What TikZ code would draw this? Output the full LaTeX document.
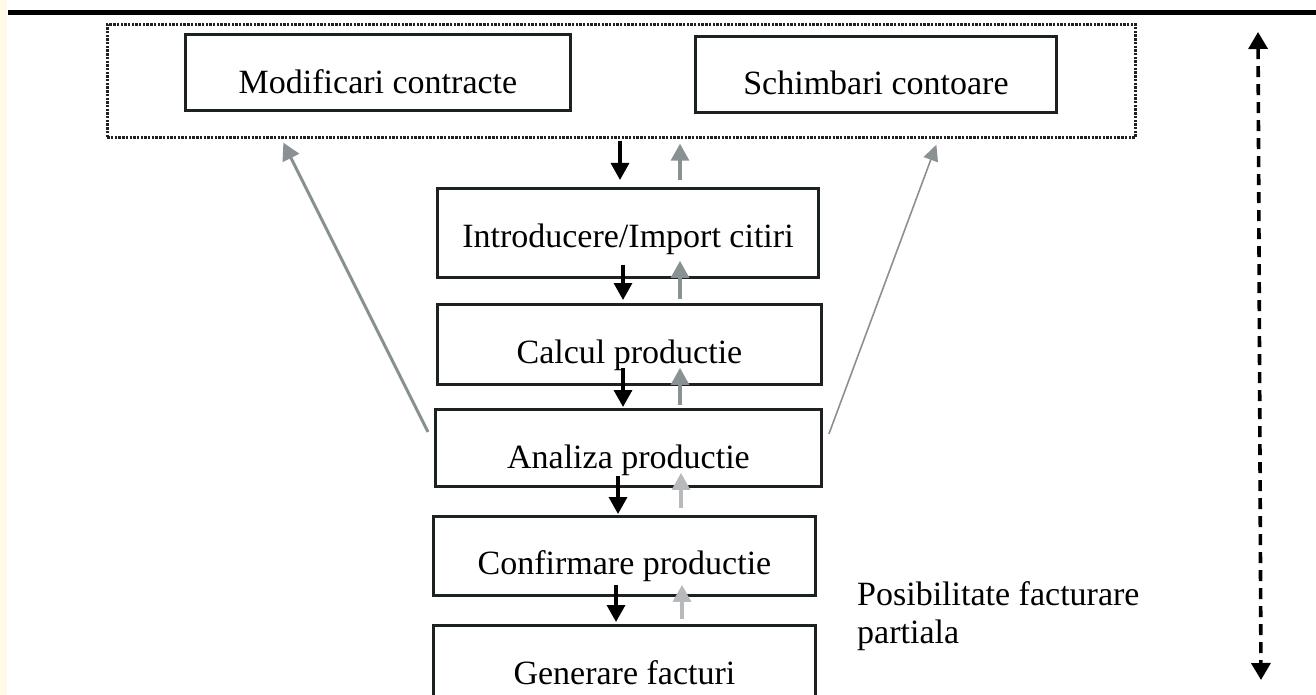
\documentclass[tikz,border=0pt]{standalone}
\usepackage{fontspec}
\setmainfont{Liberation Serif}
\usetikzlibrary{arrows.meta,calc}
\definecolor{boxline}{RGB}{28,34,34}
\definecolor{grayA}{RGB}{138,145,147}
\definecolor{grayB}{RGB}{182,186,187}
\definecolor{cream}{RGB}{255,250,232}
\begin{document}
\begin{tikzpicture}[x=1pt,y=-1pt,
  box/.style={draw=boxline, line width=2.9pt, rectangle, inner sep=0pt, anchor=north west, font=\fontsize{34}{36}\selectfont},
  dotbox/.style={draw=boxline, line width=2.7pt, dash pattern=on 2.4pt off 1.3pt, rectangle, inner sep=0pt, anchor=north west},
  tipA/.tip={Triangle[width=18pt,length=17pt]},
  darr/.style={draw=black, line width=3.3pt, -tipA},
  garr/.style={draw=grayA, line width=3.3pt, -tipA},
  larr/.style={draw=grayB, line width=3.3pt, -tipA},
  diagL/.style={draw=grayA, line width=3pt, -tipA},
  diagR/.style={draw=grayA, line width=1.6pt, -{Triangle[width=15pt,length=16pt]}},
  dasharr/.style={draw=black, line width=3.6pt, dash pattern=on 11pt off 7pt, {Triangle[width=19pt,length=17pt]}-{Triangle[width=19pt,length=17pt]}},
  note/.style={anchor=north west, inner sep=0pt, align=left, font=\fontsize{34}{38}\selectfont}]
\clip (0,0) rectangle (1316,695);
\fill[white] (0,0) rectangle (1316,695);
\fill[cream] (0,0) rectangle (7,695);
\draw[line width=5.5pt] (8,12.5) -- (1316,12.5);

% boxes
\node[dotbox, minimum width=1028pt, minimum height=113pt] (grp) at (106,23) {};
\node[box, minimum width=385pt, text height=59pt, text depth=17pt] (mod) at (184,33) {Modificari contracte};
\node[box, minimum width=361pt, text height=58pt, text depth=18pt] (sch) at (694,35) {Schimbari contoare};
\node[box, minimum width=381pt, text height=59pt, text depth=30pt] (intro) at (436,187) {Introducere/Import citiri};
\node[box, minimum width=384pt, text height=59pt, text depth=21pt] (calc) at (436,303) {Calcul productie};
\node[box, minimum width=386pt, text height=59pt, text depth=18pt] (anal) at (434,408) {Analiza productie};
\node[box, minimum width=382pt, text height=58pt, text depth=21pt] (conf) at (432,515) {Confirmare productie};
\node[box, minimum width=382pt, text height=59pt, text depth=40pt] (gen) at (432,624) {Generare facturi};

% arrow columns
\coordinate (k1) at (620,0);
\coordinate (k2) at (623,0);
\coordinate (k3) at (618,0);
\coordinate (k4) at (616,0);
\coordinate (g1) at (680,0);
\coordinate (g2) at (681,0);
\coordinate (g3) at (682,0);

% downward black arrows
\draw[darr] ($(grp.south -| k1)+(0,2)$) -- ($(intro.north -| k1)+(0,-7)$);
\draw[darr] ($(intro.south -| k2)+(0,-14)$) -- ($(calc.north -| k2)+(0,-3)$);
\draw[darr] ($(calc.south -| k2)+(0,-18)$) -- ($(anal.north -| k2)+(0,-1)$);
\draw[darr] ($(anal.south -| k3)+(0,-12)$) -- ($(conf.north -| k3)+(0,-1)$);
\draw[darr] ($(conf.south -| k4)+(0,-12)$) -- ($(gen.north -| k4)+(0,-2)$);

% upward gray arrows
\draw[garr] ($(intro.north -| g1)+(0,-7)$) -- ($(grp.south -| g1)+(0,5)$);
\draw[garr] ($(calc.north -| g1)+(0,-4)$) -- ($(intro.south -| g1)+(0,-18)$);
\draw[garr] ($(anal.north -| g1)+(0,-3)$) -- ($(calc.south -| g1)+(0,-18)$);
\draw[larr] ($(conf.north -| g2)+(0,-7)$) -- ($(anal.south -| g2)+(0,-15)$);
\draw[larr] ($(gen.north -| g3)+(0,-5)$) -- ($(conf.south -| g3)+(0,-12)$);

% diagonal feedback arrows
\draw[diagL] ($(anal.west)+(-6,-16)$) -- ($(grp.south)+(-338,4)$);
\draw[diagR] ($(anal.east)+(6,-14)$) -- ($(grp.south)+(315,6)$);

% dashed double arrow
\coordinate (dtop) at (1258,32);
\coordinate (dbot) at (1261,680);
\draw[dasharr] (dtop) -- (dbot);

% note
\node[note] (pos) at (857,581) {Posibilitate facturare\\partiala};
\end{tikzpicture}
\end{document}
